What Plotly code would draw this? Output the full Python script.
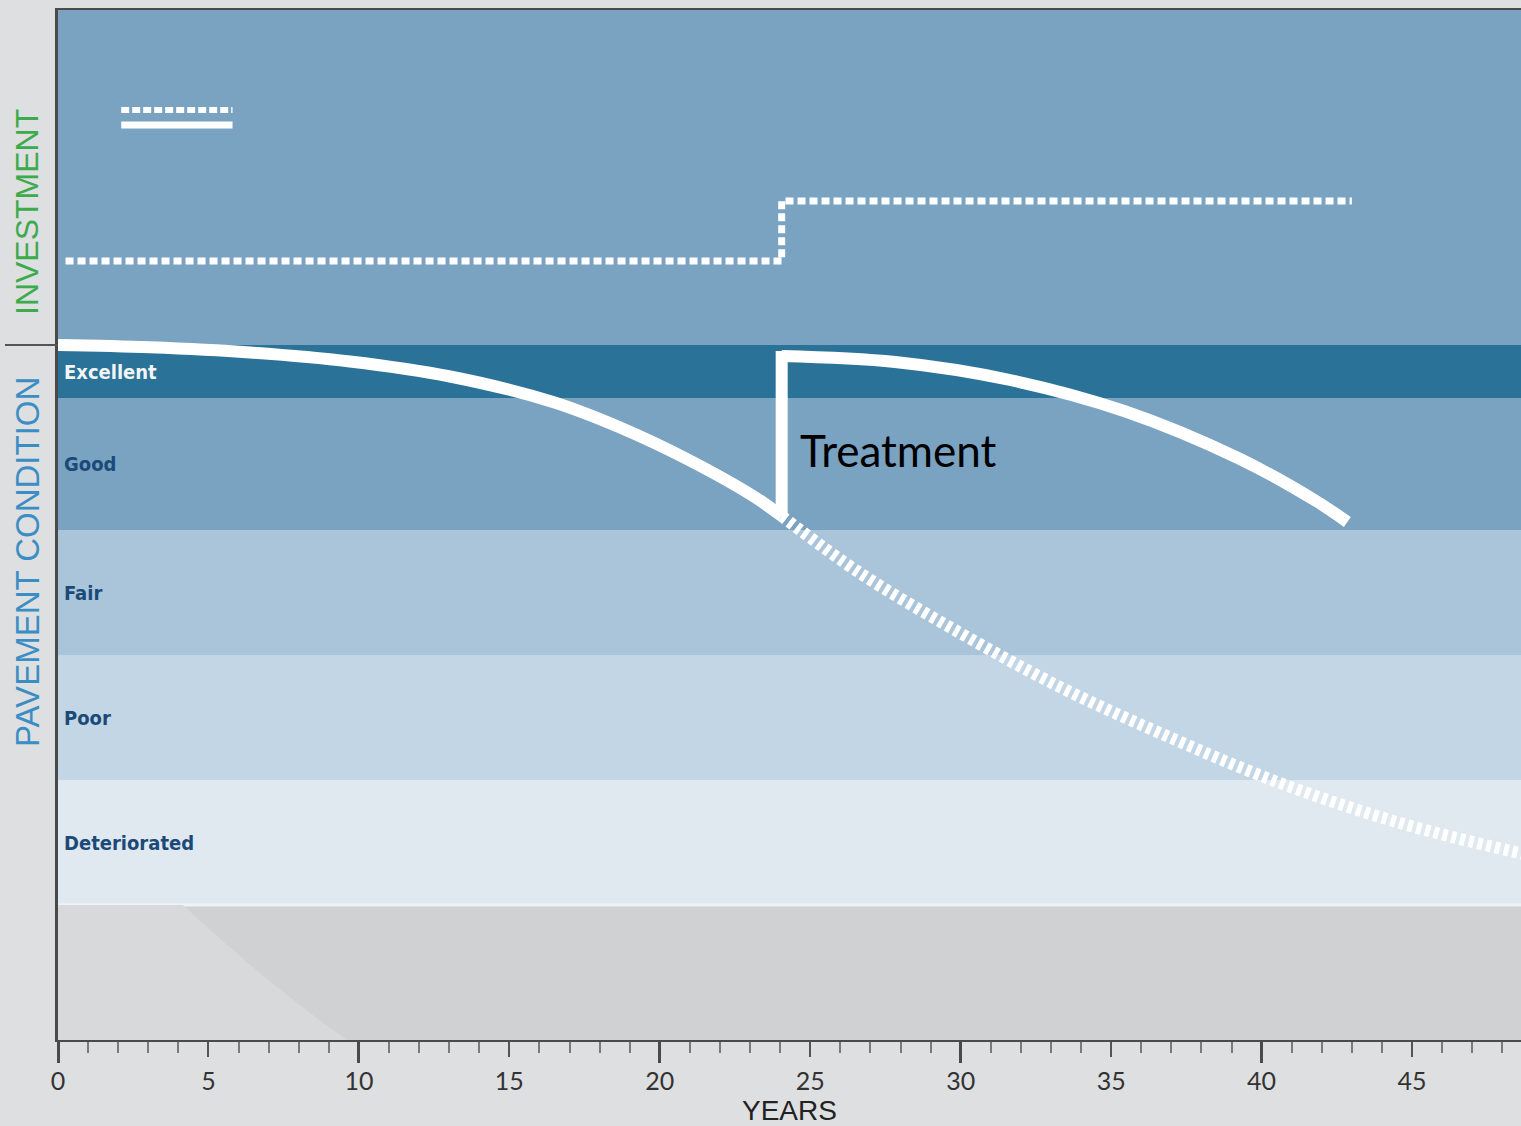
import plotly.graph_objects as go

# ---------------- data ----------------
x_tick_years = list(range(0, 50, 5))
x_long_tick_years = list(range(0, 50, 10))

band_names = ["Deteriorated", "Poor", "Fair", "Good", "Excellent"]
band_bottoms = [13.5, 26.0, 38.5, 51.0, 64.2]
band_tops = [26.0, 38.5, 51.0, 64.2, 69.5]
band_colors = ["#E0E8F0", "#C3D6E5", "#AAC5DA", "#7AA2C1", "#2A7298"]
band_label_colors = ["#1B4A78", "#1B4A78", "#1B4A78", "#1B4A78", "#F2F4F6"]

investment_zone = [69.5, 103.0]

invest_years = [0.25, 24.05, 43.0]
invest_level = [77.9, 83.9, 83.9]

legend_years = [2.1, 5.8]
legend_dotted_level = [93.0, 93.0]
legend_solid_level = [91.5, 91.5]

cond1_years = [0, 3.06, 6.38, 9.70, 13.03, 16.45, 18.68, 20.90, 23.10, 24.05]
cond1_vals = [69.5, 69.27, 68.75, 67.85, 66.35, 63.8, 61.25, 58.1, 54.4, 52.4]

treat_years = [24.05, 24.05]
treat_vals = [52.4, 68.9]

cond2_years = [24.05, 27.82, 31.64, 35.43, 39.25, 41.81, 42.85]
cond2_vals = [68.4, 67.8, 66.0, 62.9, 58.15, 53.9, 51.8]

notreat_years = [24.05, 26.65, 29.98, 33.30, 36.62, 40.61, 44.60, 48.7]
notreat_vals = [52.4, 46.7, 40.7, 35.3, 30.7, 25.7, 21.7, 18.6]

X_MAX = 48.62
Y_MAX = 103.0

# ---------------- figure ----------------
fig = go.Figure()

WHITE = "#FFFFFF"

fig.add_trace(go.Scatter(x=legend_years, y=legend_dotted_level, mode="lines",
                         line=dict(color=WHITE, width=6, dash="8px,3px")))
fig.add_trace(go.Scatter(x=legend_years, y=legend_solid_level, mode="lines",
                         line=dict(color=WHITE, width=7)))

fig.add_trace(go.Scatter(x=invest_years, y=invest_level, mode="lines",
                         line=dict(color=WHITE, width=7, dash="8px,4px", shape="hv")))

fig.add_trace(go.Scatter(x=notreat_years, y=notreat_vals, mode="lines",
                         line=dict(color=WHITE, width=12, dash="5px,4px", shape="spline")))

fig.add_trace(go.Scatter(x=cond1_years, y=cond1_vals, mode="lines",
                         line=dict(color=WHITE, width=12, shape="spline")))
fig.add_trace(go.Scatter(x=treat_years, y=treat_vals, mode="lines",
                         line=dict(color=WHITE, width=12), xaxis="x2"))
fig.add_trace(go.Scatter(x=cond2_years, y=cond2_vals, mode="lines",
                         line=dict(color=WHITE, width=12, shape="spline")))

shapes = []
shapes.append(dict(type="rect", xref="x domain", x0=0, x1=1, yref="y",
                   y0=investment_zone[0], y1=investment_zone[1],
                   fillcolor="#7AA2C1", line=dict(width=0), layer="below"))
for b0, b1, c in zip(band_bottoms, band_tops, band_colors):
    shapes.append(dict(type="rect", xref="x domain", x0=0, x1=1, yref="y",
                       y0=b0, y1=b1, fillcolor=c, line=dict(width=0), layer="below"))
shapes.append(dict(type="line", xref="x domain", x0=0, x1=1, yref="y",
                   y0=band_bottoms[0], y1=band_bottoms[0],
                   line=dict(color="#EEF3F7", width=3), layer="below"))
shapes.append(dict(type="path", xref="x", yref="y",
                   path="M 0,13.5 L 4.15,13.5 Q 6.8,6.0 9.6,0 L 0,0 Z",
                   fillcolor="#D8D9DB", line=dict(width=0), layer="below"))
shapes.append(dict(type="line", xref="paper", x0=-53 / 1463, x1=0, yref="y",
                   y0=investment_zone[0], y1=investment_zone[0],
                   line=dict(color="#555555", width=2)))

annotations = []
for name, b0, b1, c in zip(band_names, band_bottoms, band_tops, band_label_colors):
    annotations.append(dict(text="<b>" + name + "</b>", xref="x domain", x=0, xshift=4,
                            xanchor="left", yref="y", y=(b0 + b1) / 2, yanchor="middle",
                            showarrow=False,
                            font=dict(family="DejaVu Sans Condensed, Liberation Sans Narrow, Arial Narrow, sans-serif",
                                      size=20, color=c)))

annotations.append(dict(text="INVESTMENT", textangle=-90, xref="paper", x=-31 / 1463,
                        xanchor="center", yref="y", y=82.8, yanchor="middle", showarrow=False,
                        font=dict(family="Liberation Sans, Arial, sans-serif", size=32, color="#3DAA4C")))
annotations.append(dict(text="PAVEMENT CONDITION", textangle=-90, xref="paper", x=-31 / 1463,
                        xanchor="center", yref="y", y=47.8, yanchor="middle", showarrow=False,
                        font=dict(family="Liberation Sans, Arial, sans-serif", size=33, color="#3B8EC4")))
annotations.append(dict(text="Treatment", xref="x", x=24.6, xanchor="left", yref="y", y=59.0,
                        yanchor="middle", showarrow=False,
                        font=dict(family="Lato, Open Sans, sans-serif", size=44, color="#000000")))
annotations.append(dict(text="YEARS", xref="paper", x=0.5, xanchor="center", yref="paper",
                        y=-70 / 1030, yanchor="middle", showarrow=False, borderpad=0,
                        font=dict(family="Liberation Sans, Arial, sans-serif", size=28, color="#222222")))

fig.update_layout(
    width=1521, height=1126,
    margin=dict(l=58, r=0, t=10, b=86),
    paper_bgcolor="#DEDFE1",
    plot_bgcolor="#D0D1D3",
    showlegend=False,
    hovermode=False,
    shapes=shapes,
    annotations=annotations,
    xaxis=dict(range=[0, X_MAX], showgrid=False, zeroline=False,
               showline=True, linecolor="#4A4A4A", linewidth=2, mirror=True,
               ticks="outside", tickvals=x_tick_years, ticklen=15, tickwidth=2,
               tickcolor="#555555",
               minor=dict(ticks="outside", dtick=1, tick0=0, ticklen=11, tickwidth=1.5,
                          tickcolor="#7A7A7A", showgrid=False),
               tickfont=dict(family="Lato, Open Sans, sans-serif", size=25, color="#333333"),
               ticklabelstandoff=3),
    xaxis2=dict(matches="x", overlaying="x", anchor="y", side="bottom",
                showgrid=False, zeroline=False, showline=False,
                ticks="outside", tickvals=x_long_tick_years, ticklen=22, tickwidth=2.5,
                tickcolor="#4A4A4A", showticklabels=False),
    yaxis=dict(range=[0, Y_MAX], showgrid=False, zeroline=False, showline=True,
               linecolor="#4A4A4A", linewidth=3, ticks="", showticklabels=False),
)

fig.write_html("out.html", config={"displayModeBar": False},
               post_script="document.body.style.margin='0';")
